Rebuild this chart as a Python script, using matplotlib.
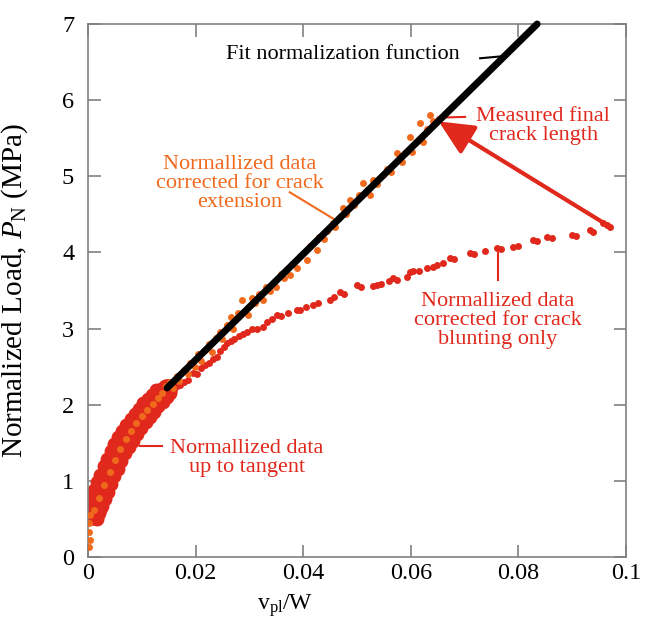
import numpy as np
import matplotlib
matplotlib.use("Agg")
import matplotlib.pyplot as plt

plt.rcParams['font.family'] = 'Liberation Serif'
plt.rcParams['mathtext.fontset'] = 'custom'
plt.rcParams['mathtext.rm'] = 'Liberation Serif'
plt.rcParams['mathtext.it'] = 'Liberation Serif:italic'

RED = '#e0281c'
ORANGE = '#f06a1e'

# normalized data up to the tangent point (dense band, three rows)
tan_x = [0.0012, 0.0016, 0.0020, 0.0025, 0.0030, 0.0036, 0.0042, 0.0048, 0.0055, 0.0062,
         0.0069, 0.0076, 0.0084, 0.0092, 0.0100, 0.0108, 0.0116, 0.0124, 0.0132, 0.0140,
         0.0147]
tan_y = [0.55, 0.65, 0.75, 0.85, 0.95, 1.05, 1.15, 1.25, 1.35, 1.45,
         1.54, 1.62, 1.70, 1.78, 1.86, 1.93, 2.00, 2.06, 2.12, 2.17,
         2.20]
tan_hi_x = [0.0004, 0.0008, 0.0012, 0.0017, 0.0023, 0.0029, 0.0035, 0.0042, 0.0049, 0.0056,
            0.0063, 0.0071, 0.0079, 0.0087, 0.0095, 0.0103, 0.0111, 0.0119, 0.0127]
tan_hi_y = [0.66, 0.78, 0.88, 0.98, 1.08, 1.19, 1.29, 1.39, 1.48, 1.57,
            1.65, 1.73, 1.81, 1.88, 1.95, 2.02, 2.08, 2.13, 2.19]
tan_lo_x = [0.0016, 0.0021, 0.0026, 0.0031, 0.0037, 0.0043, 0.0049, 0.0055, 0.0062, 0.0069,
            0.0076, 0.0083, 0.0091, 0.0099, 0.0107, 0.0115, 0.0123, 0.0131, 0.0139, 0.0147,
            0.0153]
tan_lo_y = [0.50, 0.58, 0.67, 0.76, 0.86, 0.96, 1.06, 1.16, 1.26, 1.36,
            1.45, 1.53, 1.61, 1.69, 1.77, 1.84, 1.91, 1.98, 2.04, 2.10,
            2.15]

# normalized data corrected for crack extension
ext_x = [0.0001, 0.0003, 0.0002, 0.0001, 0.0003,
         0.0012, 0.0020, 0.0030, 0.0040, 0.0050, 0.0060, 0.0070, 0.0080, 0.0090, 0.0100,
         0.0110, 0.0120, 0.0130, 0.0138,
         0.0145, 0.0152, 0.0158, 0.0165, 0.017, 0.0178, 0.0185, 0.019, 0.0198, 0.0205,
         0.021, 0.0218, 0.0225, 0.023, 0.0238, 0.0245, 0.025, 0.0258, 0.0265, 0.027,
         0.0278, 0.0286, 0.029, 0.0297, 0.0305, 0.031, 0.0318, 0.0325, 0.033, 0.0338,
         0.0345, 0.035, 0.0358, 0.0365, 0.0375, 0.038, 0.0388, 0.0395, 0.0407, 0.0412,
         0.0426, 0.043, 0.0438, 0.0445, 0.0455, 0.046, 0.0467, 0.0474, 0.048, 0.0487,
         0.0495, 0.0503, 0.0511, 0.0518, 0.0524, 0.053, 0.0538, 0.0548, 0.0555, 0.0563,
         0.0574, 0.0584, 0.059, 0.0599, 0.0602, 0.061, 0.0617, 0.0623, 0.063, 0.0636,
         0.0642]
ext_y = [0.13, 0.22, 0.33, 0.45, 0.55,
         0.62, 0.78, 0.95, 1.12, 1.28, 1.42, 1.55, 1.66, 1.76, 1.85,
         1.93, 2.01, 2.09, 2.15,
         2.25, 2.30, 2.22, 2.38, 2.31, 2.45, 2.40, 2.55, 2.50, 2.66,
         2.58, 2.72, 2.80, 2.69, 2.88, 2.95, 2.86, 3.05, 3.15, 3.00,
         3.20, 3.38, 3.22, 3.18, 3.40, 3.33, 3.45, 3.38, 3.55, 3.50,
         3.60, 3.55, 3.72, 3.66, 3.70, 3.85, 3.80, 3.95, 3.90, 4.08,
         4.03, 4.20, 4.18, 4.28, 4.39, 4.33, 4.45, 4.58, 4.50, 4.69,
         4.62, 4.75, 4.91, 4.82, 4.75, 4.95, 4.90, 5.02, 5.10, 5.05,
         5.30, 5.19, 5.30, 5.52, 5.32, 5.45, 5.70, 5.45, 5.62, 5.80,
         5.72]

# normalized data corrected for crack blunting only
blunt_x = [0.0150, 0.0158, 0.0165, 0.0171, 0.0178, 0.0185, 0.0195, 0.0202, 0.0210, 0.0218,
           0.0225, 0.0232, 0.0240, 0.0246, 0.0252, 0.0258, 0.0265, 0.0272, 0.0280, 0.0288,
           0.0296, 0.0305, 0.0315, 0.0325, 0.0333, 0.0342, 0.0351, 0.0358, 0.0372, 0.0388,
           0.0395, 0.0405, 0.0418, 0.0428, 0.0450, 0.0458, 0.0468, 0.0475, 0.0500, 0.0508,
           0.0530, 0.0537, 0.0545, 0.0560, 0.0567, 0.0575, 0.0593, 0.0598, 0.0605, 0.0615,
           0.0630, 0.0642, 0.0649, 0.0660, 0.0673, 0.0680, 0.0710, 0.0718, 0.0738, 0.0760,
           0.0768, 0.0790, 0.0800, 0.0827, 0.0835, 0.0853, 0.0862, 0.0900, 0.0908, 0.0933,
           0.0938, 0.0957, 0.0965, 0.0970]
blunt_y = [2.20, 2.18, 2.24, 2.26, 2.30, 2.33, 2.42, 2.40, 2.48, 2.52,
           2.55, 2.60, 2.63, 2.70, 2.76, 2.81, 2.84, 2.86, 2.90, 2.93,
           2.96, 2.99, 3.00, 3.02, 3.08, 3.12, 3.18, 3.17, 3.20, 3.24,
           3.25, 3.28, 3.31, 3.33, 3.38, 3.42, 3.48, 3.46, 3.57, 3.55,
           3.56, 3.57, 3.58, 3.62, 3.66, 3.64, 3.68, 3.74, 3.75, 3.76,
           3.80, 3.81, 3.83, 3.86, 3.93, 3.92, 3.99, 3.98, 4.02, 4.06,
           4.05, 4.07, 4.09, 4.16, 4.15, 4.20, 4.19, 4.23, 4.22, 4.29,
           4.27, 4.39, 4.36, 4.34]

# fit normalization function
fit_x = [0.0147, 0.0835]
fit_y = [2.22, 7.0]

fig = plt.figure(figsize=(6.52, 6.25), dpi=100)
ax = fig.add_axes([0.135, 0.1088, 0.825, 0.8528])

ax.plot(tan_x, tan_y, 'o', color=RED, ms=15, mec='none', zorder=2)
ax.plot(tan_hi_x, tan_hi_y, 'o', color=RED, ms=10, mec='none', zorder=2)
ax.plot(tan_lo_x, tan_lo_y, 'o', color=RED, ms=10, mec='none', zorder=2)
ax.plot(blunt_x, blunt_y, 'o', color=RED, ms=5, mec='none', zorder=2)
ax.plot(ext_x, ext_y, 'o', color=ORANGE, ms=5, mec='none', zorder=3)
ax.plot(fit_x, fit_y, '-', color='black', lw=5, solid_capstyle='round', zorder=4, clip_on=False)

ax.set_xlim(0, 0.1)
ax.set_ylim(0, 7)
ax.set_xticks([0, 0.02, 0.04, 0.06, 0.08, 0.1])
ax.set_xticklabels(['0', '0.02', '0.04', '0.06', '0.08', '0.1'])
ax.set_yticks(range(8))
for s in ax.spines.values():
    s.set_color('#808080')
    s.set_linewidth(1.2)
ax.tick_params(direction='in', length=9, width=1.2, color='#808080',
               top=True, right=True, labelsize=17.5)
ax.tick_params(axis='y', pad=10)
ax.tick_params(axis='x', pad=4)

ax.set_ylabel(r'Normalized Load, $P_{\rm N}$ (MPa)', fontsize=21)
ax.yaxis.set_label_coords(-0.108, 0.5)
ax.set_xlabel(r'v$_{\rm pl}$/W', fontsize=17)
ax.xaxis.set_label_coords(0.366, -0.066)

# annotations
tfs = 16
ax.text(0.0691, 6.6, 'Fit normalization function', fontsize=tfs, color='black',
        ha='right', va='center')
ax.plot([0.0729, 0.0776], [6.55, 6.58], color='black', lw=1.5)

ax.text(0.02825, 4.91, 'Normallized data\ncorrected for crack\nextension', fontsize=tfs,
        color=ORANGE, ha='center', va='center', linespacing=1.0)
ax.plot([0.0375, 0.0459], [4.79, 4.43], color=ORANGE, lw=1.5)

ax.text(0.0846, 5.66, 'Measured final\ncrack length', fontsize=tfs, color=RED,
        ha='center', va='center', linespacing=1.0)
ax.plot([0.0701, 0.0650], [5.78, 5.77], color=RED, lw=1.5)
ax.annotate('', xy=(0.0652, 5.72), xytext=(0.0972, 4.33),
            arrowprops=dict(arrowstyle='-|>,head_length=0.85,head_width=0.4',
                            lw=3, color=RED, mutation_scale=25, shrinkA=0, shrinkB=0))

ax.text(0.0762, 3.11, 'Normallized data\ncorrected for crack\nblunting only', fontsize=tfs,
        color=RED, ha='center', va='center', linespacing=1.0)
ax.plot([0.0762, 0.0762], [3.64, 3.99], color=RED, lw=1.5)

ax.text(0.0295, 1.30, 'Normallized data\nup to tangent', fontsize=tfs, color=RED,
        ha='center', va='center', linespacing=1.0)
ax.plot([0.00967, 0.0138], [1.46, 1.46], color=RED, lw=1.5)

fig.savefig('out.png', dpi=100)
